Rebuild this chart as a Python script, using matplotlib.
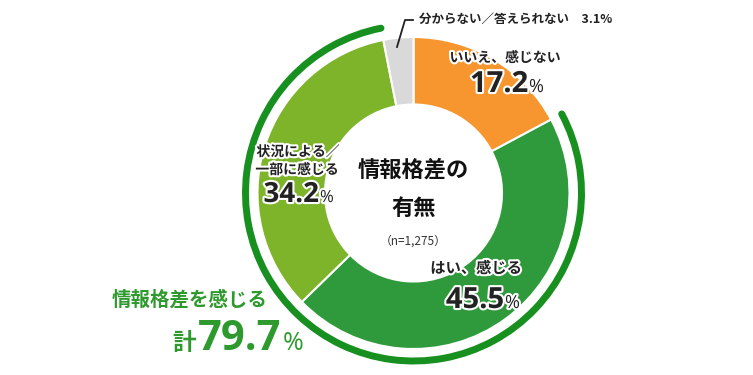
import matplotlib
matplotlib.use("Agg")
import matplotlib.pyplot as plt
import matplotlib.patheffects as pe
from matplotlib.patches import Arc

plt.rcParams['font.family'] = ['Noto Sans CJK JP', 'DejaVu Sans']

categories = ["いいえ、感じない", "はい、感じる", "状況による／一部に感じる", "分からない／答えられない"]
values = [17.2, 45.5, 34.2, 3.1]
colors = ["#F7962F", "#2F9A3B", "#7DB42A", "#D9D9D9"]
total_label = "情報格差を感じる"
total_value = values[1] + values[2]

W, H = 753, 375
fig = plt.figure(figsize=(W / 100, H / 100), dpi=100)
ax = fig.add_axes([0, 0, 1, 1])

cx, cy = 413.5, H - 193
R = 156
inner = 88.5
ax.pie(values, colors=colors, startangle=90, counterclock=False, center=(cx, cy), radius=R,
       wedgeprops=dict(width=R - inner, edgecolor='white', linewidth=1.5), frame=True)
ax.set_xlim(0, W)
ax.set_ylim(0, H)
ax.set_aspect('equal')
ax.axis('off')

# outer ring for total
start_deg = 90 - values[0] / 100 * 360
end_deg = 90 - (values[0] + values[1] + values[2]) / 100 * 360
ring = Arc((cx, cy), 2 * 168, 2 * 168, theta1=end_deg, theta2=start_deg, color="#17901F", lw=5,
           capstyle='round')
ax.add_patch(ring)

stroke = [pe.withStroke(linewidth=3, foreground='white')]
dark = "#222222"

def pct(x, y, num, size, small, color=dark, effects=stroke):
    ax.text(x, y, num, ha='right', va='baseline', fontsize=size, fontweight='bold', color=color,
            family=['Open Sans', 'DejaVu Sans'], path_effects=effects)
    ax.text(x + 1, y, "%", ha='left', va='baseline', fontsize=small, color=color,
            family=['Open Sans', 'DejaVu Sans'], path_effects=effects)

# いいえ
ax.text(505, H - 58, "いいえ、感じない", ha='center', va='center', fontsize=10, fontweight='bold',
        color=dark, path_effects=stroke)
pct(528, H - 92, f"{values[0]}", 21, 13)

# はい
ax.text(476, H - 268, "はい、感じる", ha='center', va='center', fontsize=11, fontweight='bold',
        color=dark, path_effects=stroke)
pct(504, H - 308, f"{values[1]}", 21, 13)

# 状況
ax.text(298, H - 152, "状況による／", ha='center', va='center', fontsize=10, fontweight='bold',
        color=dark, path_effects=stroke)
ax.text(297, H - 170, "一部に感じる", ha='center', va='center', fontsize=10, fontweight='bold',
        color=dark, path_effects=stroke)
pct(319, H - 202, f"{values[2]}", 20, 12)

# center
ax.text(cx, H - 170, "情報格差の", ha='center', va='center', fontsize=16, fontweight='bold', color="#111111")
ax.text(cx, H - 208, "有無", ha='center', va='center', fontsize=16, fontweight='bold', color="#111111")
ax.text(cx, H - 241, "（n=1,275）", ha='center', va='center', fontsize=8.5, color="#333333")

# top label with leader
ax.plot([397, 405, 413], [H - 47, H - 20, H - 20], color="#222222", lw=1.3)
ax.text(419, H - 19, f"分からない／答えられない　{values[3]}%", ha='left', va='center', fontsize=9,
        fontweight='bold', color="#222222")

# total text
green = "#2E9A2E"
ax.text(112, H - 300, total_label, ha='left', va='center', fontsize=14, fontweight='bold', color=green)
ax.text(172, H - 350, "計", ha='left', va='baseline', fontsize=17, fontweight='bold', color=green)
ax.text(281, H - 350, f"{total_value:.1f}", ha='right', va='baseline', fontsize=30, fontweight='bold',
        color=green, family=['Open Sans', 'DejaVu Sans'])
ax.text(283, H - 350, "%", ha='left', va='baseline', fontsize=18, color=green,
        family=['Open Sans', 'DejaVu Sans'])

fig.savefig("out.png", dpi=100)
